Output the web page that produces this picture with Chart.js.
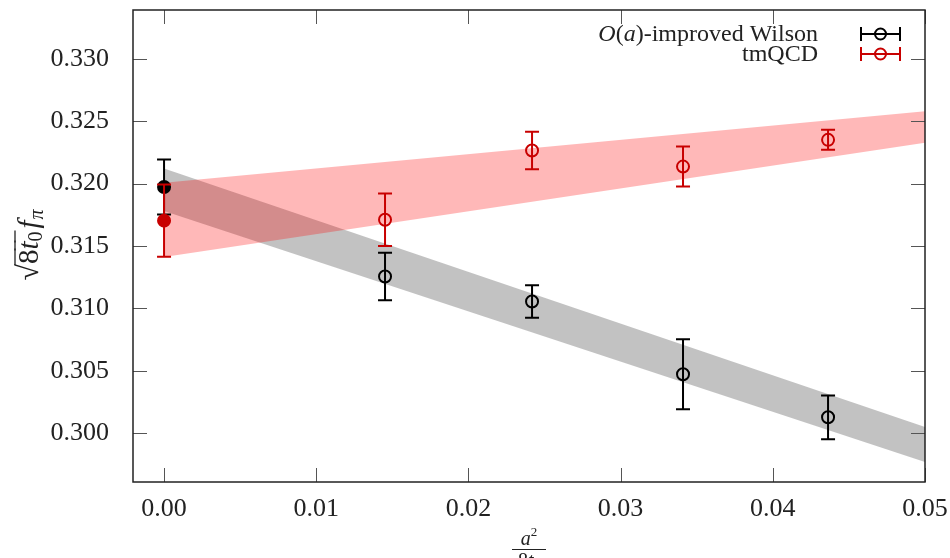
<!DOCTYPE html>
<html>
<head>
<meta charset="utf-8">
<script src="https://cdn.jsdelivr.net/npm/chart.js@4.4.1/dist/chart.umd.min.js"></script>
<style>
  html, body { margin: 0; padding: 0; background: #fff; }
  #holder { width: 950px; height: 558px; }
</style>
</head>
<body>
<div id="holder"><canvas id="fpi" width="950" height="558"></canvas></div>
<script>
// a^2/(8 t0) of the ensembles
var spacings = [0.01452, 0.02418, 0.0341, 0.04363];

// O(a)-improved Wilson, sqrt(8t0) f_pi
var wilsonVals = [0.31256, 0.31055, 0.30473, 0.30128];
var wilsonErrs = [0.0019, 0.0013, 0.0028, 0.00175];
var wilsonCont = 0.31972;
var wilsonContErr = 0.0022;

// tmQCD, sqrt(8t0) f_pi
var tmVals = [0.3171, 0.32265, 0.32136, 0.3235];
var tmErrs = [0.0021, 0.0015, 0.0016, 0.0008];
var tmCont = 0.31703;
var tmContErr = 0.0029;

// continuum fit error bands
var bandX = [0, 0.05];
var wilsonBandHi = [0.3212, 0.30051];
var wilsonBandLo = [0.3178, 0.2977];
var tmBandHi = [0.32006, 0.3258];
var tmBandLo = [0.31412, 0.32326];

// axis ticks
var xTicks = [0, 0.01, 0.02, 0.03, 0.04, 0.05];
var yTicks = [0.300, 0.305, 0.310, 0.315, 0.320, 0.325, 0.330];

var BLACK = "#000000";
var RED = "#c80000";
var SERIF = "'Liberation Serif', 'DejaVu Serif', serif";

function pts(xs, ys) {
    return xs.map(function (x, i) { return { x: x, y: ys[i] }; });
}

function markerData(cont, vals) {
    return [{ x: 0, y: cont }].concat(pts(spacings, vals));
}

function bandLine(ys, fill, color, order) {
    return {
        data: pts(bandX, ys),
        borderWidth: 0,
        borderColor: "rgba(0,0,0,0)",
        pointRadius: 0,
        fill: fill,
        backgroundColor: color,
        order: order
    };
}

function markerSet(label, cont, contErr, vals, errs, color, order) {
    return {
        label: label,
        data: markerData(cont, vals),
        errs: [contErr].concat(errs),
        showLine: false,
        borderColor: color,
        pointBorderColor: color,
        pointBackgroundColor: [color, "rgba(0,0,0,0)", "rgba(0,0,0,0)", "rgba(0,0,0,0)", "rgba(0,0,0,0)"],
        pointRadius: 6,
        pointBorderWidth: 2,
        order: order
    };
}

// no extra room for edge labels, the frame is placed by the layout padding
function noPad(s) {
    s.paddingLeft = 0; s.paddingRight = 0; s.paddingTop = 0; s.paddingBottom = 0;
}

// text made of pieces: {t, font, dy, over}
function drawRuns(ctx, runs, x, y, align) {
    var total = 0;
    runs.forEach(function (r) { ctx.font = r.font; r.w = ctx.measureText(r.t).width; total += r.w + (r.gap || 0); });
    var cx = align === "center" ? x - total / 2 : x;
    ctx.textAlign = "left";
    ctx.textBaseline = "alphabetic";
    runs.forEach(function (r) {
        ctx.font = r.font;
        ctx.fillText(r.t, cx, y + (r.dy || 0));
        if (r.over !== undefined) {
            ctx.beginPath();
            ctx.lineWidth = 1.3;
            ctx.moveTo(cx - 1, y + r.over);
            ctx.lineTo(cx + r.w + 1, y + r.over);
            ctx.stroke();
        }
        cx += r.w + (r.gap || 0);
    });
    return total;
}

var decorations = {
    id: "decorations",
    afterDatasetDraw: function (chart, args) {
        var ds = chart.data.datasets[args.index];
        if (!ds.errs) return;
        var ctx = chart.ctx, xs = chart.scales.x, ys = chart.scales.y;
        ctx.save();
        ctx.strokeStyle = ds.borderColor;
        ctx.lineWidth = 2;
        ds.data.forEach(function (p, i) {
            var px = xs.getPixelForValue(p.x);
            var top = ys.getPixelForValue(p.y + ds.errs[i]);
            var bot = ys.getPixelForValue(p.y - ds.errs[i]);
            ctx.beginPath();
            ctx.moveTo(px, top); ctx.lineTo(px, bot);
            ctx.moveTo(px - 7, top); ctx.lineTo(px + 7, top);
            ctx.moveTo(px - 7, bot); ctx.lineTo(px + 7, bot);
            ctx.stroke();
        });
        ctx.restore();
    },
    afterDraw: function (chart) {
        var ctx = chart.ctx, a = chart.chartArea;
        var xs = chart.scales.x, ys = chart.scales.y;
        ctx.save();

        // inward ticks on all four sides
        ctx.strokeStyle = "#555";
        ctx.lineWidth = 1;
        ctx.beginPath();
        xTicks.forEach(function (v) {
            var px = Math.round(xs.getPixelForValue(v)) + 0.5;
            ctx.moveTo(px, a.bottom); ctx.lineTo(px, a.bottom - 14);
            ctx.moveTo(px, a.top); ctx.lineTo(px, a.top + 14);
        });
        yTicks.forEach(function (v) {
            var py = Math.round(ys.getPixelForValue(v)) + 0.5;
            ctx.moveTo(a.left, py); ctx.lineTo(a.left + 14, py);
            ctx.moveTo(a.right, py); ctx.lineTo(a.right - 14, py);
        });
        ctx.stroke();

        // frame
        ctx.strokeStyle = "#222";
        ctx.lineWidth = 1.5;
        ctx.strokeRect(a.left, a.top, a.right - a.left, a.bottom - a.top);

        // legend
        var rows = [
            { color: BLACK, y: 34, runs: [
                { t: "O", font: "italic 24px " + SERIF },
                { t: "(", font: "24px " + SERIF },
                { t: "a", font: "italic 24px " + SERIF },
                { t: ")-improved Wilson", font: "24px " + SERIF }
            ] },
            { color: RED, y: 54, runs: [{ t: "tmQCD", font: "24px " + SERIF }] }
        ];
        rows.forEach(function (row) {
            ctx.fillStyle = "#222";
            var w = 0;
            row.runs.forEach(function (r) { ctx.font = r.font; w += ctx.measureText(r.t).width; });
            drawRuns(ctx, row.runs, 818 - w, row.y + 7, "left");
            ctx.strokeStyle = row.color;
            ctx.lineWidth = 2;
            ctx.beginPath();
            ctx.moveTo(861, row.y); ctx.lineTo(900, row.y);
            ctx.moveTo(861, row.y - 7); ctx.lineTo(861, row.y + 7);
            ctx.moveTo(900, row.y - 7); ctx.lineTo(900, row.y + 7);
            ctx.stroke();
            ctx.beginPath();
            ctx.arc(880.5, row.y, 5.5, 0, Math.PI * 2);
            ctx.stroke();
        });

        // y title: sqrt(8 t0) f_pi
        ctx.fillStyle = "#222";
        ctx.strokeStyle = "#222";
        ctx.save();
        ctx.translate(29, 245);
        ctx.rotate(-Math.PI / 2);
        drawRuns(ctx, [
            { t: "\u221A", font: "30px " + SERIF },
            { t: "8", font: "29px " + SERIF, over: -23 },
            { t: "t", font: "italic 29px " + SERIF, over: -23 },
            { t: "0", font: "20px " + SERIF, dy: 4, over: -23, gap: 3 },
            { t: "f", font: "italic 29px " + SERIF, gap: 1 },
            { t: "\u03C0", font: "italic 20px " + SERIF, dy: 5 }
        ], 0, 9, "center");
        ctx.restore();

        // x title: a^2 / (8 t0)
        var cx = (a.left + a.right) / 2;
        drawRuns(ctx, [
            { t: "a", font: "italic 20px " + SERIF },
            { t: "2", font: "13px " + SERIF, dy: -9 }
        ], cx, 545, "center");
        ctx.lineWidth = 1.2;
        ctx.beginPath();
        ctx.moveTo(cx - 17, 549.5); ctx.lineTo(cx + 17, 549.5);
        ctx.stroke();
        drawRuns(ctx, [
            { t: "8", font: "20px " + SERIF },
            { t: "t", font: "italic 20px " + SERIF },
            { t: "0", font: "13px " + SERIF, dy: 4 }
        ], cx, 567, "center");

        ctx.restore();
    }
};

var canvas = document.getElementById("fpi");
var chart = new Chart(canvas.getContext("2d"), {
    type: "line",
    data: {
        datasets: [
            bandLine(wilsonBandHi, "+1", "rgba(120,120,120,0.45)", 6),
            bandLine(wilsonBandLo, false, "rgba(0,0,0,0)", 7),
            bandLine(tmBandHi, "+1", "rgba(255,0,0,0.28)", 4),
            bandLine(tmBandLo, false, "rgba(0,0,0,0)", 5),
            markerSet("O(a)-improved Wilson", wilsonCont, wilsonContErr, wilsonVals, wilsonErrs, BLACK, 2),
            markerSet("tmQCD", tmCont, tmContErr, tmVals, tmErrs, RED, 1)
        ]
    },
    options: {
        responsive: false,
        animation: false,
        events: [],
        layout: { padding: { top: 10, right: 25, left: 0, bottom: 0 } },
        plugins: { legend: { display: false }, tooltip: { enabled: false } },
        scales: {
            x: {
                type: "linear",
                min: -0.00204,
                max: 0.05,
                grid: { display: false, drawTicks: false },
                border: { display: false },
                afterBuildTicks: function (s) { s.ticks = xTicks.map(function (v) { return { value: v }; }); },
                afterFit: function (s) { s.height = 76; noPad(s); },
                ticks: {
                    padding: 12,
                    color: "#222",
                    font: { family: SERIF, size: 26 },
                    maxRotation: 0,
                    callback: function (v) { return v.toFixed(2); }
                }
            },
            y: {
                type: "linear",
                min: 0.2961,
                max: 0.3339,
                grid: { display: false, drawTicks: false },
                border: { display: false },
                afterBuildTicks: function (s) { s.ticks = yTicks.map(function (v) { return { value: v }; }); },
                afterFit: function (s) { s.width = 133; noPad(s); },
                ticks: {
                    padding: 24,
                    color: "#222",
                    font: { family: SERIF, size: 26 },
                    callback: function (v) { return v.toFixed(3); }
                }
            }
        }
    },
    plugins: [decorations]
});
</script>
</body>
</html>
